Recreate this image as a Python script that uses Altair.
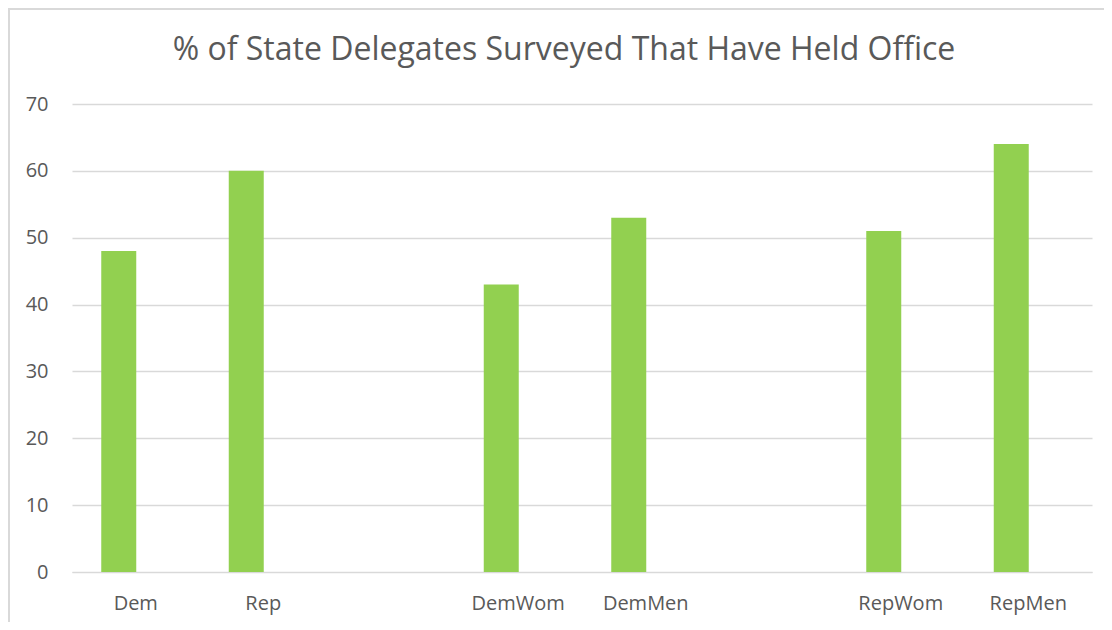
import altair as alt
import pandas as pd

categories = ["Dem", "Rep", "gap1", "DemWom", "DemMen", "gap2", "RepWom", "RepMen"]
bar_labels = ["Dem", "Rep", "DemWom", "DemMen", "RepWom", "RepMen"]
bar_values = [48, 60, 43, 53, 51, 64]
y_ticks = [0, 10, 20, 30, 40, 50, 60, 70]

df = pd.DataFrame({"group": bar_labels, "pct": bar_values})

FONT = "Open Sans"
TXT = "#595959"
GRID = "#d9d9d9"

bars = alt.Chart(df).mark_bar(width=35, xOffset=-17, color="#92d050").encode(
    x=alt.X(
        "group:N",
        scale=alt.Scale(domain=categories, paddingInner=0, paddingOuter=0),
        sort=categories,
        axis=alt.Axis(
            title=None,
            labelAngle=0,
            labelFont=FONT,
            labelFontSize=20,
            labelColor=TXT,
            labelPadding=21,
            ticks=False,
            domain=True,
            domainColor=GRID,
            labelExpr="indexof(datum.label, 'gap') == 0 ? '' : datum.label",
        ),
    ),
    y=alt.Y(
        "pct:Q",
        scale=alt.Scale(domain=[0, 70], nice=False),
        axis=alt.Axis(
            title=None,
            values=y_ticks,
            labelFont=FONT,
            labelFontSize=20,
            labelColor=TXT,
            labelPadding=24,
            ticks=False,
            domain=False,
            grid=True,
            gridColor=GRID,
            gridWidth=1.3,
        ),
    ),
)

border = alt.Chart(pd.DataFrame({"a": [0]})).mark_rect(
    filled=False, fillOpacity=0, stroke=GRID, strokeWidth=2, clip=False
).encode(
    x=alt.value(-63), y=alt.value(-95), x2=alt.value(1300), y2=alt.value(900)
)

chart = alt.layer(border, bars).properties(
    width=1020,
    height=468,
    padding={"left": 64, "top": 96, "right": 12, "bottom": 50},
    autosize=alt.AutoSizeParams(type="none"),
    title=alt.TitleParams(
        "% of State Delegates Surveyed That Have Held Office",
        font=FONT,
        fontSize=32,
        fontWeight="normal",
        color=TXT,
        anchor="middle",
        dx=-18,
        dy=96,
        offset=37,
    ),
).configure_view(stroke=None)

chart.save("out.html", embed_options={"renderer": "svg", "actions": False})
